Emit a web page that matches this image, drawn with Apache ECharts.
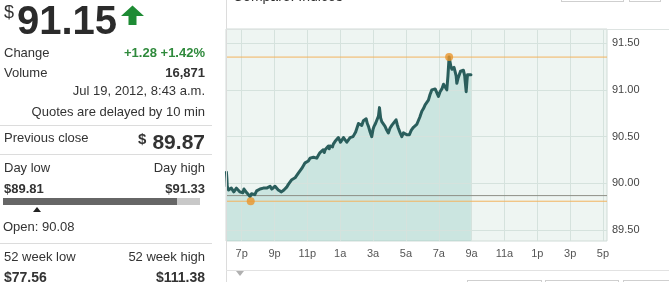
<!DOCTYPE html>
<html>
<head>
<meta charset="utf-8">
<script src="https://cdn.jsdelivr.net/npm/echarts@6/dist/echarts.min.js"></script>
<style>
  html, body { margin: 0; padding: 0; width: 669px; height: 282px; overflow: hidden; background: #fff; font-family: "Liberation Sans", Arial, sans-serif; color: #333; }
  #chart { position: absolute; left: 0; top: 0; width: 669px; height: 282px; }
  .t { position: absolute; font-size: 13px; line-height: 16px; white-space: nowrap; }
  .r { text-align: right; right: 464px; }
  .b { font-weight: bold; }
  .g { color: #2f8a3c; }
  .hr { position: absolute; left: 0; width: 212px; height: 1px; background: #dcdcdc; }
  .box { position: absolute; border: 1px solid #cfcfcf; background: #fff; }
</style>
</head>
<body>
<div id="chart"></div>

<!-- left quote panel -->
<div class="t" style="left:4px;top:2px;font-size:18px;line-height:20px;">$</div>
<div class="t b" style="left:17px;top:0px;font-size:40px;line-height:40px;color:#2b2b2b;">91.15</div>
<svg style="position:absolute;left:120px;top:5px" width="25" height="21" viewBox="0 0 25 21">
  <polygon points="12.5,0.5 24,11 16.5,11 16.5,20 8.5,20 8.5,11 1,11" fill="#1e8b34"/>
</svg>

<div class="t" style="left:4px;top:45px;">Change</div>
<div class="t b g r" style="top:45px;">+1.28 +1.42%</div>
<div class="t" style="left:4px;top:65px;">Volume</div>
<div class="t b r" style="top:65px;">16,871</div>
<div class="t r" style="top:83px;">Jul 19, 2012, 8:43 a.m.</div>
<div class="t r" style="top:104px;">Quotes are delayed by 10 min</div>
<div class="hr" style="top:125px;"></div>

<div class="t" style="left:4px;top:130px;">Previous close</div>
<div class="t b" style="left:138px;top:131px;font-size:15px;line-height:16px;">$</div>
<div class="t b r" style="top:130px;font-size:21px;line-height:24px;">89.87</div>
<div class="hr" style="top:154px;"></div>

<div class="t" style="left:4px;top:160px;">Day low</div>
<div class="t r" style="top:160px;">Day high</div>
<div class="t b" style="left:4px;top:181px;">$89.81</div>
<div class="t b r" style="top:181px;">$91.33</div>
<div style="position:absolute;left:3px;top:198px;width:174px;height:7px;background:#666;"></div>
<div style="position:absolute;left:177px;top:198px;width:23px;height:7px;background:#c8c8c8;"></div>
<div style="position:absolute;left:33px;top:207px;width:0;height:0;border-left:4px solid transparent;border-right:4px solid transparent;border-bottom:5px solid #222;"></div>
<div class="t" style="left:3px;top:219px;">Open: 90.08</div>
<div class="hr" style="top:243px;"></div>

<div class="t" style="left:4px;top:249px;">52 week low</div>
<div class="t r" style="top:249px;">52 week high</div>
<div class="t b" style="left:4px;top:269px;font-size:14px;">$77.56</div>
<div class="t b r" style="top:269px;font-size:14px;">$111.38</div>

<!-- chart chrome -->
<div style="position:absolute;left:226px;top:0;width:1px;height:282px;background:#dcdcdc;"></div>
<div style="position:absolute;left:226px;top:29px;width:443px;height:1px;background:#dde3e1;"></div>
<div style="position:absolute;left:226px;top:270px;width:443px;height:1px;background:#e2e2e2;"></div>
<div style="position:absolute;left:236px;top:271px;width:0;height:0;border-left:4px solid transparent;border-right:4px solid transparent;border-top:5px solid #b0b0b0;"></div>
<div class="t" style="left:233px;top:-11px;font-size:14px;line-height:14px;">Compare: Indices</div>
<div class="box" style="left:561px;top:-20px;width:61px;height:20px;"></div>
<div class="box" style="left:629px;top:-20px;width:30px;height:20px;"></div>
<div class="box" style="left:467px;top:280px;width:73px;height:20px;"></div>
<div class="box" style="left:545px;top:280px;width:72px;height:20px;"></div>
<div class="box" style="left:623px;top:280px;width:50px;height:20px;"></div>

<script>
// hours since 6 p.m. (Jul 18) -> price
const times = [0.07,0.10,0.12,0.20,0.29,0.37,0.45,0.52,0.59,0.68,0.79,0.88,1.00,1.07,1.14,1.22,1.31,1.40,1.51,1.60,1.71,1.80,1.91,2.00,2.12,2.22,2.32,2.42,2.52,2.62,2.73,2.83,2.93,3.03,3.13,3.23,3.33,3.42,3.50,3.57,3.64,3.74,3.84,3.94,4.05,4.15,4.25,4.35,4.45,4.55,4.66,4.76,4.86,4.96,5.06,5.16,5.27,5.37,5.47,5.57,5.67,5.77,5.88,5.97,6.03,6.08,6.18,6.28,6.33,6.38,6.48,6.53,6.58,6.69,6.74,6.79,6.89,6.95,7.02,7.09,7.20,7.30,7.40,7.50,7.60,7.70,7.78,7.86,7.94,8.01,8.11,8.21,8.31,8.41,8.50,8.58,8.65,8.72,8.82,8.92,9.00,9.06,9.15,9.23,9.33,9.39,9.46,9.53,9.63,9.73,9.83,9.93,10.03,10.14,10.25,10.40,10.47,10.54,10.65,10.75,10.85,10.95,11.05,11.21,11.33,11.46,11.55,11.66,11.76,11.85,11.97,12.07,12.17,12.27,12.37,12.47,12.58,12.68,12.78,12.88,12.98,13.08,13.19,13.29,13.39,13.49,13.56,13.63,13.74,13.80,13.86,13.93,14.00,14.06,14.10,14.17,14.24,14.33,14.41,14.50,14.58,14.61,14.67,14.72,14.75,14.87,14.96];
const prices = [90.12,90.05,89.97,89.93,89.91,89.95,89.95,89.91,89.92,89.95,89.94,89.91,89.93,89.90,89.94,89.92,89.90,89.88,89.86,89.89,89.90,89.88,89.92,89.91,89.94,89.92,89.95,89.93,89.95,89.94,89.97,89.94,89.95,89.97,89.96,89.93,89.94,89.91,89.90,89.93,89.92,89.96,89.99,90.01,90.04,90.03,90.06,90.08,90.11,90.10,90.16,90.17,90.22,90.20,90.24,90.27,90.25,90.28,90.29,90.27,90.30,90.33,90.34,90.36,90.33,90.36,90.35,90.40,90.37,90.40,90.41,90.39,90.42,90.45,90.43,90.46,90.49,90.48,90.44,90.45,90.49,90.47,90.44,90.45,90.49,90.47,90.50,90.52,90.55,90.56,90.64,90.65,90.62,90.67,90.66,90.69,90.64,90.61,90.55,90.50,90.58,90.61,90.64,90.66,90.72,90.81,90.70,90.66,90.68,90.61,90.57,90.54,90.59,90.62,90.60,90.68,90.63,90.59,90.54,90.50,90.54,90.55,90.52,90.52,90.57,90.60,90.58,90.63,90.65,90.71,90.77,90.80,90.84,90.86,90.89,90.95,91.00,90.98,91.01,90.97,90.93,90.98,91.01,91.06,91.07,91.00,91.15,91.35,91.25,91.22,91.20,91.24,91.23,91.15,91.07,91.12,91.14,91.20,91.21,91.21,91.15,91.09,90.98,91.10,91.16,91.18,91.16];

const prevClose = 89.87;
const dayLow = 89.81;
const dayHigh = 91.35;
const lowPoint = [1.55, 89.81];
const highPoint = [13.63, 91.35];

const xTickHours = [1,3,5,7,9,11,13,15,17,19,21,23];
const xTickLabels = ['7p','9p','11p','1a','3a','5a','7a','9a','11a','1p','3p','5p'];
const yTicks = [89.5, 90.0, 90.5, 91.0, 91.5];

const xMin = 0.045, xMax = 23.245;
const yMin = 89.385, yMax = 91.65;

const seriesData = times.map((t, i) => [t, prices[i]]);

function refLine(value, color, z) {
  return {
    type: 'line', z: z, silent: true, symbol: 'none',
    data: [[xMin, value], [xMax, value]],
    lineStyle: { color: color, width: 1, type: 'solid', opacity: 1 },
    itemStyle: { color: color }
  };
}

const chart = echarts.init(document.getElementById('chart'), null, { renderer: 'canvas' });
const gridColor = '#d5e2dd';
chart.setOption({
  animation: false,
  grid: {
    left: 226, right: 62, top: 29, bottom: 41,
    show: true, backgroundColor: '#eef5f2', borderColor: '#d0dbd7', borderWidth: 1,
    outerBoundsMode: 'none', containLabel: false, z: 0
  },
  xAxis: {
    type: 'value', min: xMin, max: xMax, z: 2,
    axisLine: { show: false },
    axisTick: { show: false, customValues: xTickHours },
    splitLine: { show: true, lineStyle: { color: gridColor, width: 1 } },
    axisLabel: {
      customValues: xTickHours,
      formatter: v => xTickLabels[xTickHours.indexOf(Math.round(v))] || '',
      color: '#555', fontSize: 11, fontFamily: 'Liberation Sans', margin: 7
    }
  },
  yAxis: {
    type: 'value', position: 'right', min: yMin, max: yMax, z: 2,
    axisLine: { show: false },
    axisTick: { show: false, customValues: yTicks },
    splitLine: { show: true, lineStyle: { color: gridColor, width: 1 } },
    axisLabel: {
      customValues: yTicks,
      formatter: v => v.toFixed(2),
      color: '#444', fontSize: 11, fontFamily: 'Liberation Sans', margin: 5
    }
  },
  series: [
    {
      type: 'line', data: seriesData, z: 1, symbol: 'none', silent: true,
      lineStyle: { width: 0, opacity: 0 },
      areaStyle: { color: 'rgba(130,196,188,0.32)', origin: 'start', opacity: 1 }
    },
    refLine(prevClose, '#8e8f86', 3),
    refLine(dayLow, '#f3b35e', 3),
    refLine(dayHigh, '#f3b35e', 3),
    {
      type: 'line', data: seriesData, z: 4, symbol: 'none', silent: true,
      lineStyle: { width: 3, color: '#2a5e5c', join: 'round', cap: 'round' }
    },
    {
      type: 'scatter', z: 5, data: [lowPoint, highPoint], symbol: 'circle', symbolSize: 8, silent: true,
      itemStyle: { color: '#e8952c' }
    }
  ]
});
</script>
</body>
</html>
